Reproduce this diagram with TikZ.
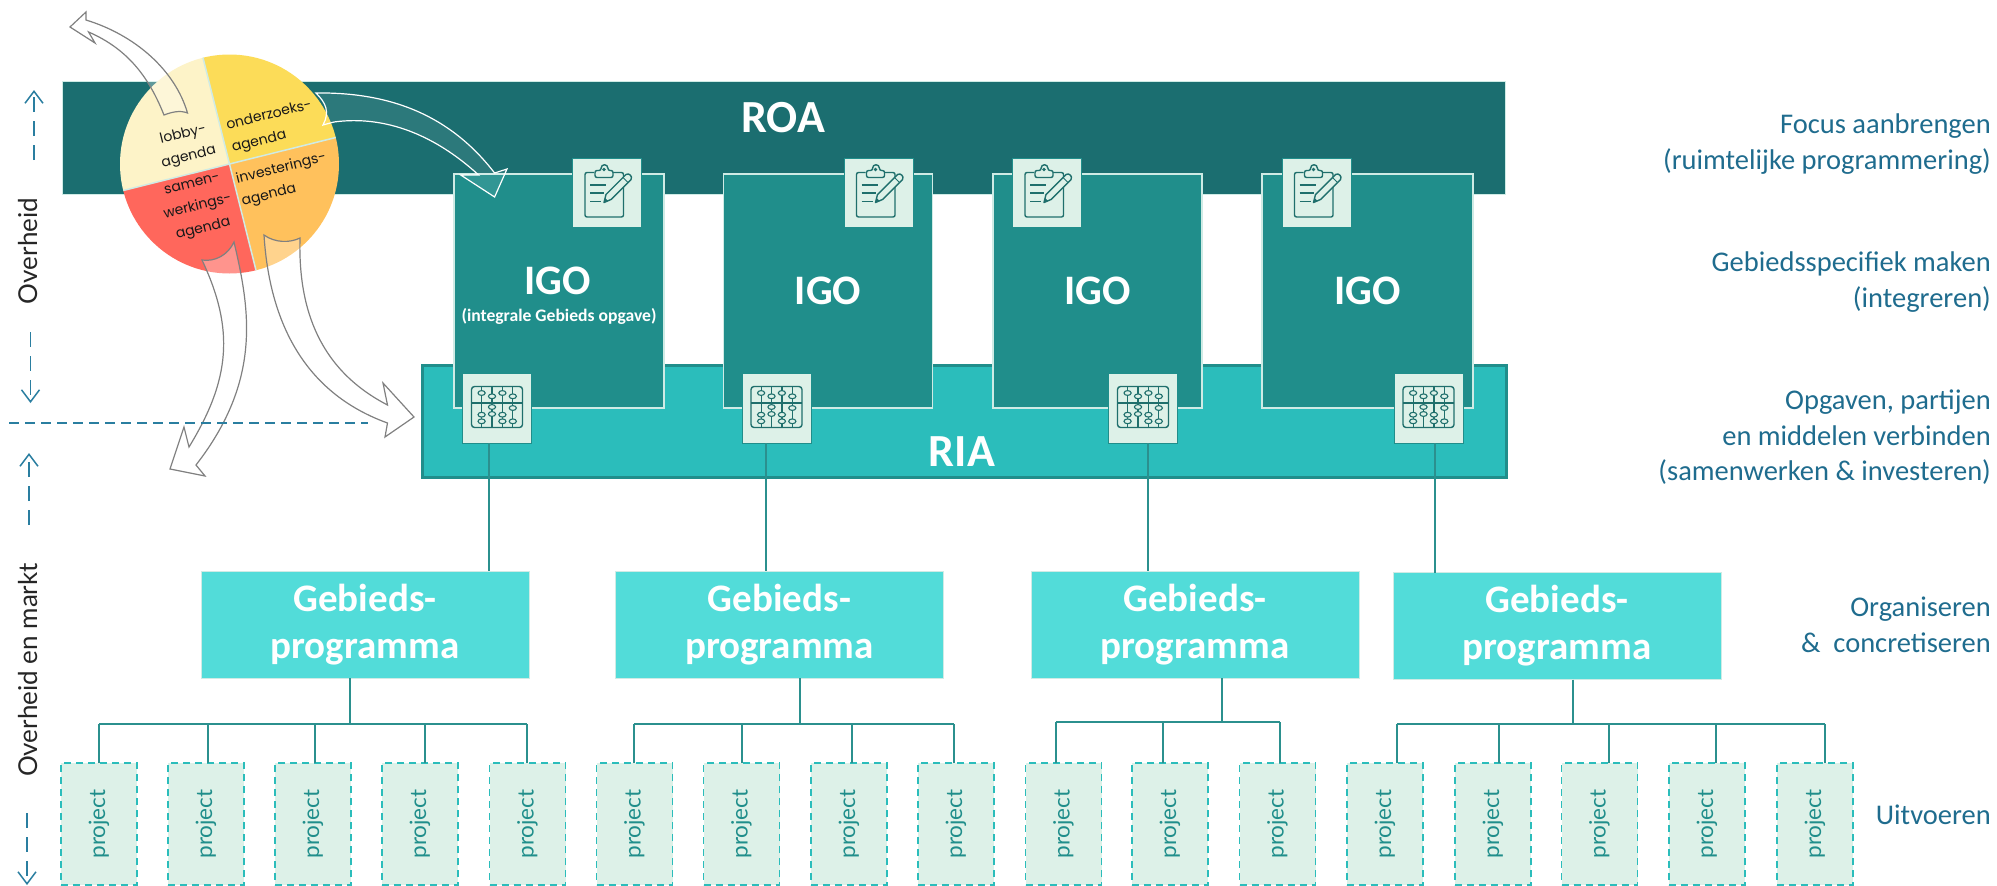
\documentclass[tikz,border=0pt]{standalone}
\usepackage{fontspec}
\setmainfont{Carlito}
\newfontfamily\sidefont{Lato}
\newfontfamily\wheelfont{Poppins}
\usetikzlibrary{arrows.meta}
\definecolor{roacolour}{HTML}{1B6E70}
\definecolor{igocolour}{HTML}{208E8B}
\definecolor{riacolour}{HTML}{2BBDBB}
\definecolor{progcolour}{HTML}{52DCD9}
\definecolor{tilecolour}{HTML}{DDF1E8}
\definecolor{edgecolour}{HTML}{CFEBE5}
\definecolor{linecolour}{HTML}{2B908E}
\definecolor{iconcolour}{HTML}{1F6F6C}
\definecolor{bluecolour}{HTML}{1F6C8E}
\definecolor{arrowcolour}{HTML}{2A7EA0}
\definecolor{lobbycolour}{HTML}{FDF3C8}
\definecolor{onderzoekcolour}{HTML}{FCDC58}
\definecolor{investcolour}{HTML}{FFC15C}
\definecolor{samencolour}{HTML}{FF675C}
\newcommand{\fs}[2]{\fontsize{#1}{#2}\selectfont}
\tikzset{
  bar/.style={rectangle,inner sep=0,outer sep=0,draw=edgecolour,line width=1pt},
  igobox/.style={bar,fill=igocolour,line width=1.6pt,minimum height=234pt,text=white,font=\fs{42}{46}\bfseries},
  tile/.style={rectangle,inner sep=0,outer sep=0,fill=tilecolour,draw=igocolour,line width=1pt,minimum width=69pt,minimum height=69pt},
  progbox/.style={rectangle,inner sep=0,outer sep=0,fill=progcolour,draw=edgecolour,line width=.8pt,minimum width=328pt,minimum height=107pt,text=white,align=center,font=\fs{39}{47}\bfseries,execute at begin node={\vspace*{7pt}}},
  projectbox/.style={rectangle,inner sep=0,outer sep=0,fill=tilecolour,draw=riacolour,line width=1.1pt,dash pattern=on 7pt off 5pt,minimum width=76pt,minimum height=122pt,text=igocolour,font=\sidefont\fs{22.5}{26}},
  stem/.style={linecolour,line width=2pt},
  sidelabel/.style={text=bluecolour,align=right,anchor=north east,inner sep=0,font=\fs{28.5}{35.5}},
  wheellabel/.style={text=black!90,inner sep=0,rotate=14,font=\wheelfont\fs{14}{23}},
  levellabel/.style={text=black!85,inner sep=0,rotate=90,font=\sidefont\fs{26}{30}},
  levelarrow/.style={arrowcolour,line width=1.5pt,dash pattern=on 15pt off 9pt,-{Straight Barb[length=12pt,width=18pt,line width=1.5pt]}},
  greyarrow/.style={draw=black!50,line width=1.2pt,fill=white,fill opacity=.3},
  whitearrow/.style={draw=white,line width=1.2pt,fill=white,fill opacity=.08},
  clipboardicon/.pic={
    \draw[iconcolour,line width=1.4pt,rounded corners=2pt] (-13,-20) -- (-22,-20) -- (-22,24.5) -- (16.5,24.5) -- (16.5,-20) -- (6,-20);
    \draw[iconcolour,line width=1.4pt,fill=tilecolour,rounded corners=2pt] (-12,-15) -- (-12,-22) -- (-6,-22) .. controls (-6,-29) and (1,-29) .. (1,-22) -- (6,-22) -- (6,-15) -- cycle;
    \fill[iconcolour] (-3,-23) circle (1.8);
    \foreach \ly/\lx in {-7.5/-1,.5/-3,9/-6}
      \draw[iconcolour,line width=1.4pt] (-17,\ly) -- (\lx,\ly);
    \draw[iconcolour,line width=1.4pt,fill=tilecolour,line join=round] (-3,10) -- (-1,2) -- (19,-18) .. controls (22,-20) and (26,-16) .. (24,-13) -- (4,7) -- cycle;
    \draw[iconcolour,line width=1pt] (16,-15) -- (21,-10);
    \fill[iconcolour] (-3,10) -- (-2,5.5) -- (1,8.5) -- cycle;
  },
  abacusicon/.pic={
    \draw[iconcolour,line width=1.4pt,rounded corners=3pt] (-25.5,-21.5) rectangle (25.5,19.5);
    \draw[iconcolour,line width=1.2pt] (-25.5,-5) -- (25.5,-5);
    \foreach \rx in {-15.4,-5,5.4,15.8}
      \draw[iconcolour,line width=1.2pt] (\rx,-21.5) -- (\rx,19.5);
    \foreach \rx/\ry in {-15.4/-15,-15.4/6.7,-15.4/13.3,-5/-11.7,-5/-1,-5/6,5.4/-15,5.4/6.7,5.4/13.3,15.8/-11.7,15.8/0,15.8/13.3}
      \draw[iconcolour,line width=1.1pt,fill=tilecolour] (\rx,\ry) ellipse (3.6 and 2.4);
  },
}

\begin{document}
\begin{tikzpicture}[x=1pt,y=-1pt]
\useasboundingbox (0,0) rectangle (1997,886);
% Bars
\node[bar,fill=roacolour,minimum width=1443pt,minimum height=113pt] (roa) at (784,137.5) {};
\node[bar,fill=riacolour,draw=igocolour,line width=3pt,minimum width=1084pt,minimum height=112pt] (ria) at (964.5,421.5) {};
\node[text=white,font=\fs{46}{50}\bfseries,inner sep=0] (roalabel) at (783,118) {ROA};
\node[text=white,font=\fs{46}{50}\bfseries,inner sep=0] (rialabel) at (962,452) {RIA};

% IGO boxes
\node[igobox,minimum width=210pt] (igo1) at (559,291) {};
\node[igobox,minimum width=209pt] (igo2) at (828,291) {IGO};
\node[igobox,minimum width=209pt] (igo3) at (1097.5,291) {IGO};
\node[igobox,minimum width=211pt] (igo4) at (1367.5,291) {IGO};
\node[text=white,inner sep=0,font=\fs{42}{46}\bfseries] (igolabel) at (557.5,281) {IGO};
\node[text=white,inner sep=0,font=\fs{17.6}{20}\bfseries] (igosub) at (559,316) {(integrale Gebieds opgave)};

% Clipboards on top of the IGO boxes
\foreach \i/\x in {1/607,2/878.5,3/1047,4/1316.5} {
  \node[tile] (clip\i) at (\x,192.5) {};
  \pic at (clip\i) {clipboardicon};
}
% Abacus tiles and the stems below them
\foreach \i/\x/\sx in {1/497/489,2/776.5/766,3/1143/1148,4/1428.5/1435} {
  \node[tile,minimum height=70pt] (abacus\i) at (\x,408) {};
  \pic at (abacus\i) {abacusicon};
  \coordinate (stemtop\i) at (\sx,443);
}

% Gebieds-programma
\node[progbox] (prog1) at (365,624.5) {Gebieds-\\programma};
\node[progbox] (prog2) at (779.5,624.5) {Gebieds-\\programma};
\node[progbox] (prog3) at (1195,624.5) {Gebieds-\\programma};
\node[progbox] (prog4) at (1557,626) {Gebieds-\\programma};
\foreach \i in {1,...,4}
  \draw[stem,line width=2.6pt] (stemtop\i) -- (prog\i.north -| stemtop\i);

% Projects
\foreach \n/\x/\dx/\by in {1/99/99/724,2/206/208/724,3/313/315/724,4/420/425/724,5/527.5/527/724,6/634.5/634/724,7/741.5/742/724,8/849/852/724,9/956/954/724,10/1063.5/1056/722,11/1170/1163/722,12/1277.5/1280/722,13/1385/1397/724,14/1493/1499/724,15/1599.5/1609/724,16/1707/1716/724,17/1815/1825/724} {
  \node[projectbox] (prj\n) at (\x,824) {\rotatebox{90}{project}};
  \coordinate (drop\n) at (\dx,\by);
  \draw[stem] (prj\n.north -| drop\n) -- (drop\n);
}
\coordinate (trunk1) at (350,724);
\coordinate (trunk2) at (800,724);
\coordinate (trunk3) at (1222,722);
\coordinate (trunk4) at (1573,724);
\draw[stem] (drop1) -- (drop5);
\draw[stem] (drop6) -- (drop9);
\draw[stem] (drop10) -- (drop12);
\draw[stem] (drop13) -- (drop17);
\foreach \i in {1,...,4}
  \draw[stem] (prog\i.south -| trunk\i) -- (trunk\i);

% Agenda wheel
\begin{scope}[shift={(229.5,164)}]
\clip (0,0) circle (109.5);
\fill[lobbycolour] (0,0) -- (166:170) -- (211:200) -- (256:170) -- cycle;
\fill[onderzoekcolour] (0,0) -- (256:170) -- (301:200) -- (346:170) -- cycle;
\fill[investcolour] (0,0) -- (346:170) -- (31:200) -- (76:170) -- cycle;
\fill[samencolour] (0,0) -- (76:170) -- (121:200) -- (166:170) -- cycle;
\draw[edgecolour,line width=1.5pt] (166:110) -- (346:110) (76:110) -- (256:110);
\end{scope}
\node[wheellabel,align=center] (lobby) at (186,146) {lobby-\\agenda};
\node[wheellabel,align=left] (onderzoek) at (272,127) {onderzoeks-\\agenda};
\node[wheellabel,align=left] (invest) at (284,180) {investerings-\\agenda};
\node[wheellabel,align=center] (samen) at (198,208) {samen-\\werkings-\\agenda};

% Block arrows round the wheel
\draw[greyarrow] (70,27) -- (86,12) -- (86,20) .. controls (135,35) and (175,70) .. (187.5,113) .. controls (180,110) and (172,112) .. (164,115) .. controls (150,80) and (130,50) .. (88.6,32) -- (95,43) -- cycle;
\draw[whitearrow] (316,93) .. controls (390,92) and (450,115) .. (494.6,173) -- (507,169) -- (494.6,197) -- (460.7,175) -- (478.6,175) .. controls (435,135) and (385,115) .. (334,122) -- (323,125) .. controls (330,112) and (326,103) .. cycle;
\draw[greyarrow] (234,242) .. controls (250,310) and (262,380) .. (196,465) -- (205,476) -- (170,469) -- (184,427) -- (189,447) .. controls (230,380) and (235,330) .. (202,260) .. controls (215,262) and (228,255) .. cycle;
\draw[greyarrow] (300,238) .. controls (298,310) and (320,370) .. (387.5,405) -- (383,383) -- (414,417) -- (385,437) -- (387.5,423) .. controls (310,395) and (270,330) .. (264,235) .. controls (275,243) and (290,243) .. cycle;

% Levels on the left
\coordinate (levelstart) at (9,423);
\coordinate (levelend) at (368,423);
\draw[arrowcolour,line width=1.4pt,dash pattern=on 10pt off 6pt] (levelstart) -- (levelend);
\node[levellabel] (overheid) at (28,251) {Overheid};
\node[levellabel] (overheidmarkt) at (28,670) {Overheid en markt};
\coordinate (a1) at (34,160); \coordinate (a2) at (34,90);
\coordinate (b1) at (30.5,332); \coordinate (b2) at (30.5,403);
\coordinate (c1) at (29,525); \coordinate (c2) at (29,453);
\coordinate (d1) at (27,813); \coordinate (d2) at (27,885);
\draw[levelarrow] (a1) -- (a2);
\draw[levelarrow] (b1) -- (b2);
\draw[levelarrow] (c1) -- (c2);
\draw[levelarrow] (d1) -- (d2);

% Labels on the right
\node[sidelabel] (focus) at (1991,114) {Focus aanbrengen\\(ruimtelijke programmering)};
\node[sidelabel] (gebied) at (1991,252) {Gebiedsspecifiek maken\\(integreren)};
\node[sidelabel] (opgaven) at (1991,390) {Opgaven, partijen\\en middelen verbinden\\(samenwerken \& investeren)};
\node[sidelabel] (organiseren) at (1991,597) {Organiseren\\\&~~concretiseren};
\node[sidelabel] (uitvoeren) at (1991,805) {Uitvoeren};
\end{tikzpicture}
\end{document}
